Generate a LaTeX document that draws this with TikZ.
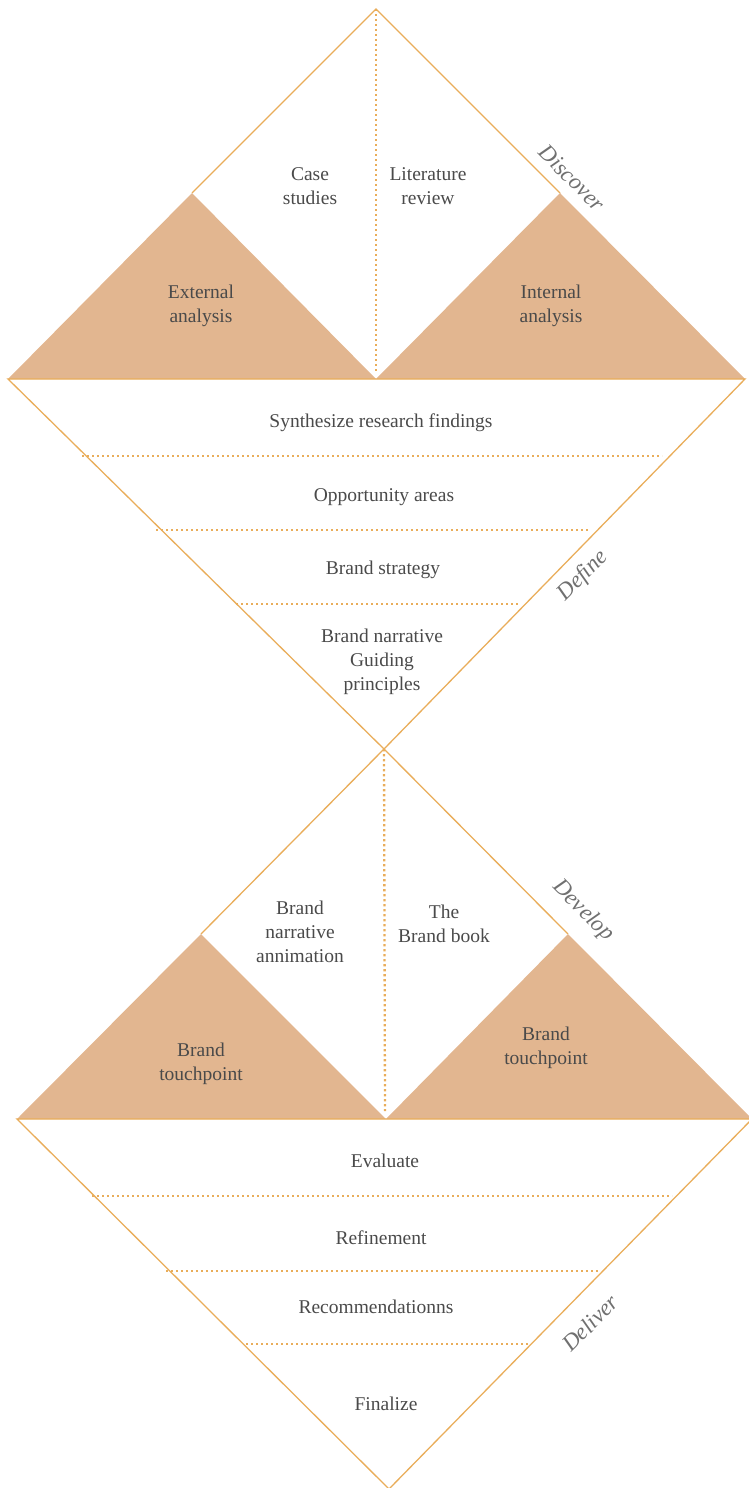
\documentclass[tikz,border=0pt]{standalone}
\usepackage{fontspec}
\setmainfont{Liberation Serif}
\definecolor{lineor}{HTML}{E9AD5A}
\definecolor{fillor}{HTML}{E2B690}
\definecolor{textgray}{HTML}{4A4A4A}
\definecolor{phasegray}{HTML}{707070}
\begin{document}
\begin{tikzpicture}[x=1pt,y=-1pt,
  edge/.style={draw=lineor, line width=1.3pt, line join=miter},
  dots/.style={draw=lineor, line width=2.3pt, dash pattern=on 2.3pt off 2.7pt},
  band/.style={fill=fillor},
  txt/.style={text=textgray, align=center, inner sep=0pt,
    font=\fontsize{19.5}{24}\selectfont},
  phase/.style={text=phasegray, inner sep=0pt,
    font=\fontsize{23}{26}\selectfont\itshape}
]
\useasboundingbox (0,0) rectangle (748,1488);

% ---------- Discover ----------
\coordinate (dTop) at (376,9);
\coordinate (dL) at (8,379);
\coordinate (dR) at (745,379);
\coordinate (dM) at (376,379);
\coordinate (dLM) at (192,193);
\coordinate (dRM) at (560,193);
\fill[band] (dL) -- (dLM) -- (dM) -- cycle;
\fill[band] (dM) -- (dRM) -- (dR) -- cycle;
\draw[edge] (dLM) -- (dTop) -- (dRM);
\draw[dots] (dTop) -- (376,372);

% ---------- Define ----------
\coordinate (fApex) at (384,749);
\draw[edge] (dL) -- (dR) -- (fApex) -- cycle;
\draw[dots] (82,456) -- (662,456);
\draw[dots] (156,530) -- (588,530);
\draw[dots] (236,604) -- (520,604);

% ---------- Develop ----------
\coordinate (vL) at (17,1119);
\coordinate (vR) at (752,1119);
\coordinate (vM) at (386,1119);
\coordinate (vLM) at (201,934);
\coordinate (vRM) at (568,934);
\fill[band] (vL) -- (vLM) -- (vM) -- cycle;
\fill[band] (vM) -- (vRM) -- (vR) -- cycle;
\draw[edge] (vLM) -- (fApex) -- (vRM);
\draw[dots] (fApex) -- (385,1111);

% ---------- Deliver ----------
\coordinate (lApex) at (389,1489);
\draw[edge] (vL) -- (vR) -- (lApex) -- cycle;
\draw[dots] (92,1196) -- (672,1196);
\draw[dots] (166,1271) -- (598,1271);
\draw[dots] (246,1344) -- (528,1344);

% ---------- texts ----------
\node[txt] (case) at (310,186) {Case\\studies};
\node[txt] (lit) at (428,186) {Literature\\review};
\node[txt] (ext) at (201,306) {External\\analysis};
\node[txt] (int) at (551,306) {Internal\\analysis};
\node[phase, rotate=-45] (discover) at (572,178) {Discover};

\node[txt] (synth) at (381,423) {Synthesize research findings};
\node[txt] (opp) at (384,497) {Opportunity areas};
\node[txt] (strat) at (383,570) {Brand strategy};
\node[txt] (narr) at (382,662) {Brand narrative\\Guiding\\principles};
\node[phase, rotate=45] (define) at (583,576) {Define};

\node[txt] (anim) at (300,932) {Brand\\narrative\\annimation};
\node[txt] (book) at (444,924) {The\\Brand book};
\node[txt] (touchL) at (201,1064) {Brand\\touchpoint};
\node[txt] (touchR) at (546,1048) {Brand\\touchpoint};
\node[phase, rotate=-45] (develop) at (583,911) {Develop};

\node[txt] (eval) at (385,1161) {Evaluate};
\node[txt] (refine) at (381,1238) {Refinement};
\node[txt] (recom) at (376,1307) {Recommendationns};
\node[txt] (final) at (386,1404) {Finalize};
\node[phase, rotate=45] (deliver) at (590,1323) {Deliver};
\end{tikzpicture}
\end{document}
